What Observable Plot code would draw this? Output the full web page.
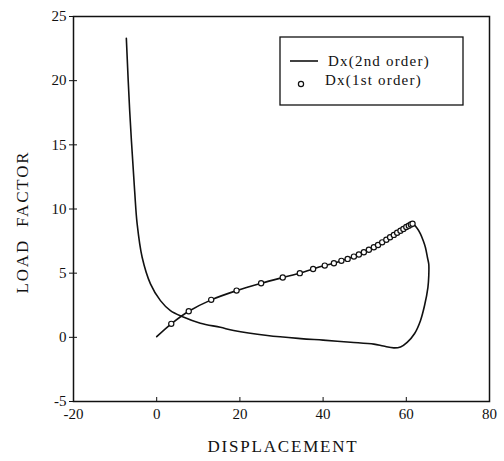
<!DOCTYPE html>
<html>
<head>
<meta charset="utf-8">
<script src="https://cdn.jsdelivr.net/npm/d3@7"></script>
<script src="https://cdn.jsdelivr.net/npm/@observablehq/plot@0.6"></script>
<style>
  html, body { margin: 0; padding: 0; background: #fff; }
  #chart { position: relative; width: 504px; height: 461px; }
</style>
</head>
<body>
<div id="chart"></div>
<script>
// 2nd order path: rises along the upper branch, loops, then runs back along the lower branch
const secondX = [0.0, 3.5, 7.7, 13.1, 19.2, 25.1, 30.3, 34.4, 37.6, 40.4, 42.6, 44.4, 46.0, 47.6, 49.2, 50.8, 52.2, 54.2, 56.1, 57.8, 59.3, 60.6, 61.5,
  62.6, 63.4, 64.1, 64.6, 65.1, 65.4, 65.4, 65.2, 64.4, 63.4, 62.0, 60.2, 58.6, 57.0, 54.5, 52.2, 46.6, 40.0, 34.6, 26.6, 18.5, 15.3, 10.5, 6.1, 3.3, 0.9, -1.5, -3.5, -4.7, -5.3, -6.5, -7.3];
const secondY = [0.05, 1.05, 2.03, 2.92, 3.64, 4.21, 4.66, 5.0, 5.33, 5.59, 5.77, 5.96, 6.15, 6.32, 6.52, 6.78, 7.02, 7.4, 7.8, 8.15, 8.45, 8.7, 8.85,
  8.5, 8.06, 7.5, 7.0, 6.2, 5.7, 4.8, 3.9, 2.5, 1.3, 0.3, -0.39, -0.75, -0.82, -0.68, -0.53, -0.38, -0.22, -0.1, 0.14, 0.53, 0.78, 1.1, 1.62, 2.08, 2.86, 4.17, 6.24, 8.84, 11.4, 17.7, 23.3];

// 1st order points
const firstX = [3.5, 7.7, 13.1, 19.2, 25.1, 30.3, 34.4, 37.6, 40.4, 42.6, 44.4, 45.9, 47.4, 48.6, 49.8, 51.0, 52.2, 53.2, 54.2, 55.2, 56.1, 57.0, 57.8, 58.6, 59.3, 60.0, 60.6, 61.1, 61.5];
const firstY = [1.05, 2.03, 2.92, 3.64, 4.21, 4.66, 5.0, 5.33, 5.59, 5.77, 5.96, 6.11, 6.29, 6.45, 6.63, 6.82, 7.02, 7.2, 7.4, 7.6, 7.8, 7.98, 8.15, 8.3, 8.45, 8.6, 8.7, 8.8, 8.85];

const xTicks = [-20, 0, 20, 40, 60, 80];
const yTicks = [-5, 0, 5, 10, 15, 20, 25];
const legendLabels = ["Dx(2nd order)", "Dx(1st order)"];

const second = secondX.map((x, i) => ({x, y: secondY[i]}));
const first = firstX.map((x, i) => ({x, y: firstY[i]}));

const font = "'Liberation Serif', 'DejaVu Serif', serif";

const plot = Plot.plot({
  width: 504,
  height: 461,
  marginLeft: 73,
  marginRight: 15,
  marginTop: 16,
  marginBottom: 60,
  style: { fontFamily: font, fontSize: "15px", color: "#111", background: "#fff" },
  x: { domain: [-20, 80], ticks: xTicks, tickFormat: d => String(d) },
  y: { domain: [-5, 25], ticks: yTicks, tickFormat: d => String(d) },
  marks: [
    Plot.frame({ stroke: "#111", strokeWidth: 1.5 }),
    Plot.axisX({ ticks: xTicks, tickFormat: d => String(d), tickSize: -4, tickPadding: 11, label: null, fontSize: 15 }),
    Plot.axisY({ ticks: yTicks, tickFormat: d => String(d), tickSize: 4, tickPadding: 3, label: null, fontSize: 15 }),
    Plot.axisY({ ticks: yTicks, tickSize: -4, text: null, label: null }),
    Plot.line(second, { x: "x", y: "y", stroke: "#111", strokeWidth: 1.6, curve: "catmull-rom" }),
    Plot.dot(first, { x: "x", y: "y", r: 2.6, stroke: "#111", fill: "#fff", strokeWidth: 1.2 })
  ]
});

document.getElementById("chart").appendChild(plot);

// axis titles and legend, drawn into the same svg
const svg = d3.select(plot);
svg.append("text")
  .attr("x", 283).attr("y", 452)
  .attr("text-anchor", "middle")
  .style("font-family", font).style("font-size", "17px").style("letter-spacing", "1.8px").attr("fill", "#111")
  .text("DISPLACEMENT");
svg.append("text")
  .attr("transform", "translate(28,222) rotate(-90)")
  .attr("text-anchor", "middle")
  .attr("xml:space", "preserve")
  .style("white-space", "pre")
  .style("font-family", font).style("font-size", "17px").style("letter-spacing", "1.8px").attr("fill", "#111")
  .text("LOAD  FACTOR");

const lg = svg.append("g").style("font-family", font).style("font-size", "15px").attr("text-anchor", "start");
lg.append("rect").attr("x", 280).attr("y", 37).attr("width", 183).attr("height", 68)
  .attr("fill", "#fff").attr("stroke", "#111").attr("stroke-width", 1.3);
lg.append("line").attr("x1", 290).attr("x2", 318).attr("y1", 61).attr("y2", 61)
  .attr("stroke", "#111").attr("stroke-width", 1.6);
lg.append("text").attr("x", 328).attr("y", 66).attr("text-anchor", "start").attr("fill", "#111")
  .style("letter-spacing", "1.2px").text(legendLabels[0]);
lg.append("circle").attr("cx", 301).attr("cy", 84).attr("r", 2.6)
  .attr("fill", "#fff").attr("stroke", "#111").attr("stroke-width", 1.2);
lg.append("text").attr("x", 325).attr("y", 85).attr("text-anchor", "start").attr("fill", "#111")
  .style("letter-spacing", "1.2px").text(legendLabels[1]);
</script>
</body>
</html>
